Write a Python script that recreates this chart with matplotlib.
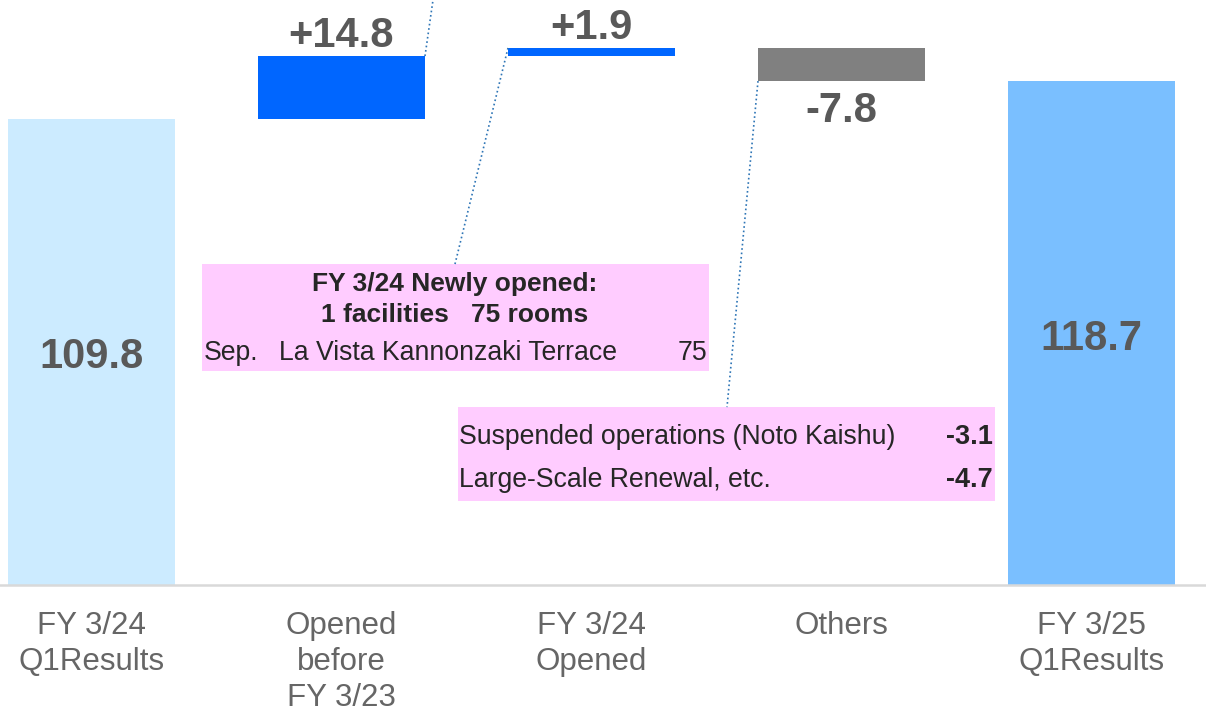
import numpy as np
import matplotlib.pyplot as plt
from matplotlib.patches import Rectangle

plt.rcParams['font.family'] = ['Liberation Sans', 'DejaVu Sans']

# data
categories = ['FY 3/24\nQ1Results', 'Opened\nbefore\nFY 3/23', 'FY 3/24\nOpened',
              'Others', 'FY 3/25\nQ1Results']
start_value = 109.8
deltas = [14.8, 1.9, -7.8]
end_value = 118.7
delta_labels = ['+14.8', '+1.9', '-7.8']

new_title = ['FY 3/24 Newly opened:', '1 facilities   75 rooms']
new_month = 'Sep.'
new_facility = 'La Vista Kannonzaki Terrace'
new_rooms = '75'
other_items = ['Suspended operations (Noto Kaishu)', 'Large-Scale Renewal, etc.']
other_values = ['-3.1', '-4.7']

colors = ['#CCEBFF', '#0066FF', '#0066FF', '#808080', '#7ABFFF']
value_color = '#595959'
box_color = '#FFCCFF'
box_text = '#262626'
line_color = '#2E75B6'

# waterfall geometry
cum = start_value + np.cumsum(deltas)
prev = np.concatenate([[start_value], cum[:-1]])
bottoms = [0] + list(np.minimum(prev, cum)) + [0]
heights = [start_value] + list(np.abs(deltas)) + [end_value]
x = np.arange(len(categories))
w = 0.668

fig = plt.figure(figsize=(12.06, 7.11), dpi=100)
ax = fig.add_axes([0, 126 / 711, 1, 585 / 711])
ax.bar(x, heights, bottom=bottoms, width=w, color=colors, zorder=2)
ax.set_xlim(-0.366, 4.458)
ax.set_ylim(0, 137.8)

for s in ['top', 'right', 'left']:
    ax.spines[s].set_visible(False)
ax.spines['bottom'].set_color('#D9D9D9')
ax.spines['bottom'].set_linewidth(1.8)
ax.set_yticks([])
ax.set_xticks(x, categories, fontsize=22.5, color='#666666', linespacing=1.25)
ax.tick_params(axis='x', length=0, pad=19)

# value labels
ax.text(0, start_value / 2 - 1.3, f'{start_value:.1f}', ha='center', va='center',
        fontsize=30, fontweight='bold', color=value_color, zorder=3)
ax.text(4, end_value / 2 - 1.3, f'{end_value:.1f}', ha='center', va='center',
        fontsize=30, fontweight='bold', color=value_color, zorder=3)
for i, (d, lab) in enumerate(zip(deltas, delta_labels)):
    top = bottoms[i + 1] + heights[i + 1]
    if d >= 0:
        ax.annotate(lab, (i + 1, top), xytext=(0, 0), textcoords='offset points',
                    ha='center', va='bottom', fontsize=30, fontweight='bold',
                    color=value_color)
    else:
        ax.annotate(lab, (i + 1, bottoms[i + 1]), xytext=(0, -7), textcoords='offset points',
                    ha='center', va='top', fontsize=30, fontweight='bold',
                    color=value_color)

# callout boxes
ax.add_patch(Rectangle((0.442, 50.4), 2.028, 25.2, facecolor=box_color,
                       edgecolor='none', zorder=1))
ax.text(1.454, 71.0, new_title[0], ha='center', va='center', fontsize=19,
        fontweight='bold', color=box_text, zorder=3)
ax.text(1.454, 63.6, new_title[1], ha='center', va='center', fontsize=19,
        fontweight='bold', color=box_text, zorder=3)
ax.text(0.448, 54.6, new_month, ha='left', va='center', fontsize=19.2, color=box_text, zorder=3)
ax.text(0.75, 54.6, new_facility, ha='left', va='center', fontsize=19.2, color=box_text, zorder=3)
ax.text(2.462, 54.6, new_rooms, ha='right', va='center', fontsize=19.2, color=box_text, zorder=3)

ax.add_patch(Rectangle((1.466, 19.8), 2.148, 22.1, facecolor=box_color,
                       edgecolor='none', zorder=1))
for yy, item, val in zip([34.8, 24.7], other_items, other_values):
    ax.text(1.47, yy, item, ha='left', va='center', fontsize=19.2, color=box_text, zorder=3)
    ax.text(3.606, yy, val, ha='right', va='center', fontsize=19.5, fontweight='bold',
            color=box_text, zorder=3)

# dotted leader lines
ax.plot([1 + w / 2, 1.366], [bottoms[1] + heights[1], 137.8], ls=':', lw=1.2,
        color=line_color, zorder=4, clip_on=False)
ax.plot([2 - w / 2, 1.454], [bottoms[2] + heights[2], 75.6], ls=':', lw=1.2,
        color=line_color, zorder=4)
ax.plot([3 - w / 2, 2.542], [bottoms[3], 41.9], ls=':', lw=1.2,
        color=line_color, zorder=4)

fig.savefig('out.png', dpi=100)
